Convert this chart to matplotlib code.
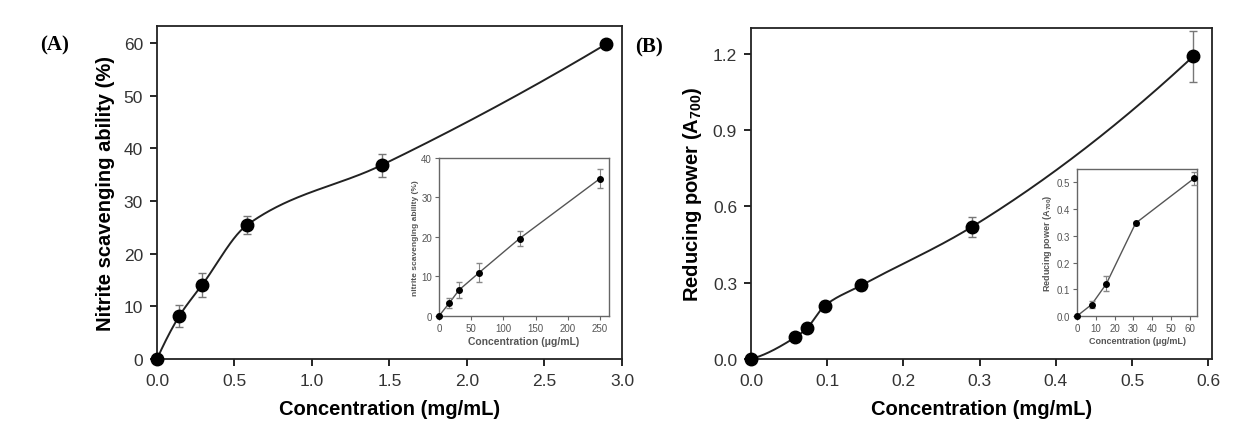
import numpy as np
import matplotlib
matplotlib.use('Agg')
import matplotlib.pyplot as plt

plt.rcParams['font.family'] = 'Liberation Sans'
plt.rcParams['mathtext.fontset'] = 'custom'
plt.rcParams['mathtext.rm'] = 'Liberation Sans'
plt.rcParams['mathtext.bf'] = 'Liberation Sans:bold'

# panel A: nitrite scavenging ability
conc_a = [0.0, 0.145, 0.29, 0.58, 1.45, 2.9]
nitrite = [0.0, 8.2, 14.0, 25.4, 36.8, 59.8]
nitrite_err = [0.0, 2.1, 2.3, 1.7, 2.2, 0.6]

# inset A
conc_a_in = [0, 15.6, 31.25, 62.5, 125, 250]
nitrite_in = [0.0, 3.2, 6.6, 11.0, 19.6, 34.8]
nitrite_in_err = [0.0, 1.3, 2.1, 2.4, 1.9, 2.3]

# panel B: reducing power
conc_b = [0.0, 0.058, 0.073, 0.097, 0.145, 0.29, 0.58]
reducing = [0.0, 0.085, 0.12, 0.21, 0.29, 0.52, 1.19]
reducing_err = [0.0, 0.01, 0.012, 0.02, 0.02, 0.04, 0.1]

# inset B
conc_b_in = [0, 7.8, 15.6, 31.25, 62.5]
reducing_in = [0.0, 0.043, 0.12, 0.347, 0.515]
reducing_in_err = [0.0, 0.012, 0.028, 0.006, 0.025]


def pchip(x, y, n=400):
    # monotone cubic (Fritsch-Carlson) through the points, for the smooth fit line
    x = np.asarray(x, float)
    y = np.asarray(y, float)
    h = np.diff(x)
    s = np.diff(y) / h
    k = len(x)
    d = np.zeros(k)
    for i in range(1, k - 1):
        if s[i - 1] * s[i] > 0:
            w1 = 2 * h[i] + h[i - 1]
            w2 = h[i] + 2 * h[i - 1]
            d[i] = (w1 + w2) / (w1 / s[i - 1] + w2 / s[i])
    # end slopes (three-point formula)
    d[0] = ((2 * h[0] + h[1]) * s[0] - h[0] * s[1]) / (h[0] + h[1])
    if np.sign(d[0]) != np.sign(s[0]):
        d[0] = 0
    d[-1] = ((2 * h[-1] + h[-2]) * s[-1] - h[-1] * s[-2]) / (h[-1] + h[-2])
    if np.sign(d[-1]) != np.sign(s[-1]):
        d[-1] = 0
    xs = np.linspace(x[0], x[-1], n)
    idx = np.clip(np.searchsorted(x, xs) - 1, 0, k - 2)
    t = (xs - x[idx]) / h[idx]
    h00 = 2 * t ** 3 - 3 * t ** 2 + 1
    h10 = t ** 3 - 2 * t ** 2 + t
    h01 = -2 * t ** 3 + 3 * t ** 2
    h11 = t ** 3 - t ** 2
    ys = h00 * y[idx] + h10 * h[idx] * d[idx] + h01 * y[idx + 1] + h11 * h[idx] * d[idx + 1]
    return xs, ys


fig = plt.figure(figsize=(12.6, 4.39), dpi=100)

tick_col = '#333333'
err_col = '#777777'


def style_main(ax):
    for s in ax.spines.values():
        s.set_linewidth(1.3)
        s.set_color('#222222')
    ax.tick_params(direction='out', length=5, width=1.2, labelsize=12.5,
                   labelcolor=tick_col, top=False, right=False, pad=5)


def style_inset(ax):
    for s in ax.spines.values():
        s.set_linewidth(1.0)
        s.set_color('#666666')
    ax.tick_params(direction='out', length=3, width=0.8, labelsize=7,
                   labelcolor='#555555', color='#666666', top=False, right=False, pad=2)


# ---- panel A
ax1 = fig.add_axes([0.1246, 0.18, 0.369, 0.7585])
xs, ys = pchip(conc_a, nitrite)
ax1.plot(xs, ys, color='#222222', lw=1.4, zorder=2)
ax1.errorbar(conc_a, nitrite, yerr=nitrite_err, fmt='o', color='black', ms=9,
             ecolor=err_col, elinewidth=1, capsize=3, clip_on=False, zorder=3)
ax1.set_xlim(0, 3.0)
ax1.set_ylim(0, 63.2)
ax1.set_xticks([0, 0.5, 1.0, 1.5, 2.0, 2.5, 3.0])
ax1.set_yticks([0, 10, 20, 30, 40, 50, 60])
ax1.set_xticklabels(['0.0', '0.5', '1.0', '1.5', '2.0', '2.5', '3.0'])
ax1.set_xlabel('Concentration (mg/mL)', fontsize=14.5, fontweight='bold', labelpad=8)
ax1.set_ylabel('Nitrite scavenging ability (%)', fontsize=14.5, fontweight='bold', labelpad=6)
style_main(ax1)
fig.text(0.032, 0.885, '(A)', family='Liberation Serif', fontsize=15, fontweight='bold')

ins1 = fig.add_axes([0.3484, 0.2779, 0.135, 0.36])
ins1.plot(conc_a_in, nitrite_in, color='#555555', lw=1.0, zorder=2)
ins1.errorbar(conc_a_in, nitrite_in, yerr=nitrite_in_err, fmt='o', color='black', ms=4,
              ecolor='#888888', elinewidth=0.8, capsize=2, clip_on=False, zorder=3)
ins1.set_xlim(0, 264)
ins1.set_ylim(0, 40)
ins1.set_xticks([0, 50, 100, 150, 200, 250])
ins1.set_yticks([0, 10, 20, 30, 40])
ins1.set_xlabel('Concentration (\u03bcg/mL)', fontsize=7.5, fontweight='bold', color='#555555', labelpad=2)
ins1.set_ylabel('nitrite scavenging ability (%)', fontsize=6, fontweight='bold', color='#555555', labelpad=2)
style_inset(ins1)

# ---- panel B
ax2 = fig.add_axes([0.596, 0.18, 0.366, 0.754])
xs, ys = pchip(conc_b, reducing)
ax2.plot(xs, ys, color='#222222', lw=1.4, zorder=2)
ax2.errorbar(conc_b, reducing, yerr=reducing_err, fmt='o', color='black', ms=9,
             ecolor=err_col, elinewidth=1, capsize=3, clip_on=False, zorder=3)
ax2.set_xlim(0, 0.605)
ax2.set_ylim(0, 1.302)
ax2.set_xticks([0, 0.1, 0.2, 0.3, 0.4, 0.5, 0.6])
ax2.set_yticks([0, 0.3, 0.6, 0.9, 1.2])
ax2.set_xticklabels(['0.0', '0.1', '0.2', '0.3', '0.4', '0.5', '0.6'])
ax2.set_yticklabels(['0.0', '0.3', '0.6', '0.9', '1.2'])
ax2.set_xlabel('Concentration (mg/mL)', fontsize=14.5, fontweight='bold', labelpad=8)
ax2.set_ylabel(r'Reducing power (A$_{\mathbf{700}}$)', fontsize=14.5, fontweight='bold', labelpad=6)
style_main(ax2)
fig.text(0.504, 0.88, '(B)', family='Liberation Serif', fontsize=15, fontweight='bold')

ins2 = fig.add_axes([0.8548, 0.2779, 0.0952, 0.335])
ins2.plot(conc_b_in, reducing_in, color='#555555', lw=1.0, zorder=2)
ins2.errorbar(conc_b_in, reducing_in, yerr=reducing_in_err, fmt='o', color='black', ms=4,
              ecolor='#888888', elinewidth=0.8, capsize=2, clip_on=False, zorder=3)
ins2.set_xlim(0, 64)
ins2.set_ylim(0, 0.55)
ins2.set_xticks([0, 10, 20, 30, 40, 50, 60])
ins2.set_yticks([0, 0.1, 0.2, 0.3, 0.4, 0.5])
ins2.set_yticklabels(['0.0', '0.1', '0.2', '0.3', '0.4', '0.5'])
ins2.set_xlabel('Concentration (\u03bcg/mL)', fontsize=6.5, fontweight='bold', color='#555555', labelpad=2)
ins2.set_ylabel(r'Reducing power (A$_{\mathbf{700}}$)', fontsize=6.5, fontweight='bold', color='#555555', labelpad=2)
style_inset(ins2)

fig.savefig('out.png', dpi=100)
